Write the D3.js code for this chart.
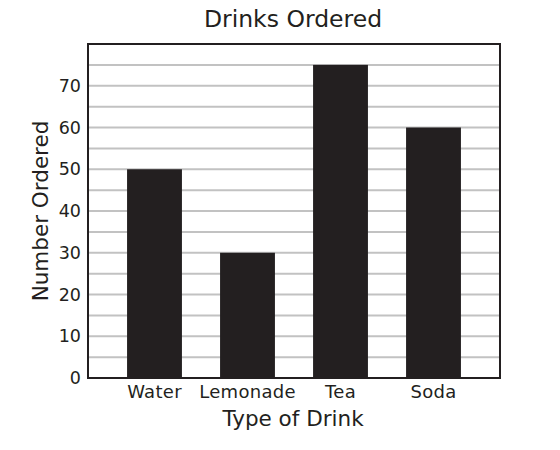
<!DOCTYPE html>
<html><head><meta charset="utf-8">
<script src="https://cdn.jsdelivr.net/npm/d3@7"></script>
<style>body{margin:0;background:#fff}svg{display:block;font-family:"DejaVu Sans",Verdana,sans-serif}</style>
</head><body>
<svg id="c" width="560" height="450"></svg>
<script>
const categories = ["Water", "Lemonade", "Tea", "Soda"];
const values = [50, 30, 75, 60];
const yTicks = [0, 10, 20, 30, 40, 50, 60, 70];
const gridValues = [5, 10, 15, 20, 25, 30, 35, 40, 45, 50, 55, 60, 65, 70, 75];

const svg = d3.select("#c");
const L = 88, R = 500, T = 44, B = 378;
const ink = "#231f20";
const x = d3.scaleBand().domain(categories).range([L, R]).paddingInner(0.41).paddingOuter(0.42);
const y = d3.scaleLinear().domain([0, 80]).range([B, T]);

svg.append("g").selectAll("line").data(gridValues).join("line")
  .attr("x1", L).attr("x2", R).attr("y1", d => y(d)).attr("y2", d => y(d))
  .attr("stroke", "#c2c2c2").attr("stroke-width", 2);

svg.append("g").selectAll("rect").data(values).join("rect")
  .attr("x", (d, i) => x(categories[i])).attr("width", x.bandwidth())
  .attr("y", d => y(d)).attr("height", d => B - y(d)).attr("fill", ink);

svg.append("rect").attr("x", L).attr("y", T).attr("width", R - L).attr("height", B - T)
  .attr("fill", "none").attr("stroke", ink).attr("stroke-width", 2);

const yAxis = d3.axisLeft(y).tickValues(yTicks).tickSize(0).tickPadding(7);
const gy = svg.append("g").attr("transform", `translate(${L},0)`).call(yAxis);
gy.select(".domain").remove();
gy.selectAll("text").attr("font-size", 17.5).attr("fill", ink).attr("font-family", "DejaVu Sans");

const xAxis = d3.axisBottom(x).tickSize(0).tickPadding(7);
const gx = svg.append("g").attr("transform", `translate(0,${B})`).call(xAxis);
gx.select(".domain").remove();
gx.selectAll("text").attr("font-size", 18).attr("letter-spacing", 0.3).attr("fill", ink).attr("font-family", "DejaVu Sans");

svg.append("text").attr("x", 293).attr("y", 27).attr("text-anchor", "middle")
  .attr("font-size", 23.5).attr("fill", ink).text("Drinks Ordered");
svg.append("text").attr("x", 293).attr("y", 426).attr("text-anchor", "middle")
  .attr("font-size", 21.5).attr("fill", ink).text("Type of Drink");
svg.append("text").attr("transform", `translate(48,${(T + B) / 2}) rotate(-90)`).attr("text-anchor", "middle")
  .attr("font-size", 21.5).attr("fill", ink).text("Number Ordered");
</script>
</body></html>
